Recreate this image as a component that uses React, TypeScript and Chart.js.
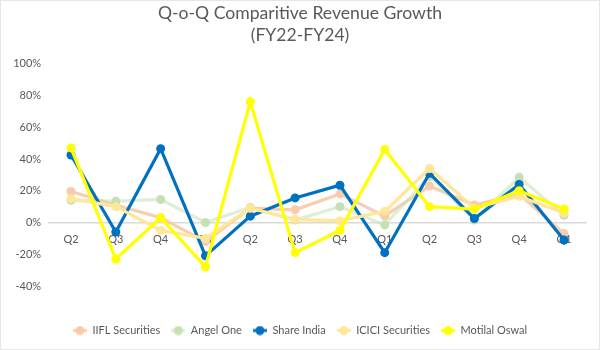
import React, { useEffect, useRef } from "react";
import { Chart, registerables } from "chart.js";

Chart.register(...registerables);

const categories = ["Q2", "Q3", "Q4", "Q1", "Q2", "Q3", "Q4", "Q1", "Q2", "Q3", "Q4", "Q1"];
const iiflSecurities = [19.5, 11, 3, -12, 9, 8, 18, 4, 23, 11, 18, -7];
const angelOne = [14, 13.5, 14.5, 0, 9.5, 1.5, 10, -1.5, 29, 1.5, 28.5, 4.5];
const shareIndia = [42.5, -6, 46.5, -21, 4, 15.5, 23.5, -19, 31, 2.5, 24, -11];
const iciciSecurities = [15, 10, -5, -10, 9, 2, 1, 7, 34, 9, 16.5, 6];
const motilalOswal = [47, -23, 3, -28, 76, -19, -5, 46, 10, 8.5, 20, 8.5];

const titleLines = ["Q-o-Q Comparitive Revenue Growth", "(FY22-FY24)"];
const FONT = "Lato, 'Open Sans', sans-serif";
const TEXT = "#595959";

function legendIcon(line: string, fill: string): HTMLCanvasElement {
  const c = document.createElement("canvas");
  c.width = 14;
  c.height = 10;
  const ctx = c.getContext("2d")!;
  ctx.strokeStyle = line;
  ctx.lineWidth = 3;
  ctx.beginPath();
  ctx.moveTo(0, 5);
  ctx.lineTo(14, 5);
  ctx.stroke();
  ctx.fillStyle = fill;
  ctx.beginPath();
  ctx.arc(7, 5, 4.5, 0, Math.PI * 2);
  ctx.fill();
  return c;
}

export default function App() {
  const ref = useRef<HTMLCanvasElement>(null);
  useEffect(() => {
    document.body.style.margin = "0";
    const series = [
      { label: "IIFL Securities", data: iiflSecurities, line: "rgba(248,203,173,0.95)", fill: "#F8CBAD", order: 4 },
      { label: "Angel One", data: angelOne, line: "rgba(197,224,180,0.55)", fill: "#C5E0B4", order: 3 },
      { label: "Share India", data: shareIndia, line: "#0070C0", fill: "#0070C0", order: 2 },
      { label: "ICICI Securities", data: iciciSecurities, line: "#FFE699", fill: "#FFE699", order: 1 },
      { label: "Motilal Oswal", data: motilalOswal, line: "#FFFF00", fill: "#FFFF00", order: 0 },
    ];
    const icons = series.map((s) => legendIcon(s.line, s.fill));
    const chart = new Chart(ref.current!, {
      type: "line",
      data: {
        labels: categories,
        datasets: series.map((s) => ({
          label: s.label,
          data: s.data,
          borderColor: s.line,
          backgroundColor: s.fill,
          pointBackgroundColor: s.fill,
          pointBorderColor: s.fill,
          pointRadius: 4.5,
          pointBorderWidth: 0,
          pointStyle: "circle",
          borderWidth: 3.2,
          tension: 0,
          order: s.order,
        })),
      },
      options: {
        animation: false,
        responsive: false,
        layout: { padding: { left: 0, right: 0, top: 0, bottom: 4 } },
        scales: {
          x: {
            type: "category",
            offset: true,
            position: { y: 0 } as any,
            grid: { display: false, drawTicks: false, offset: true },
            border: { display: true, color: "#D9D9D9", width: 1.5 },
            ticks: { color: TEXT, font: { family: FONT, size: 11 }, padding: 10, autoSkip: false, maxRotation: 0 },
          },
          x2: {
            type: "category",
            offset: true,
            position: "bottom",
            labels: categories,
            grid: { display: false, drawTicks: false },
            border: { display: false },
            ticks: { display: false },
            afterFit: (s: any) => { s.height = 28; },
          },
          y: {
            min: -40,
            max: 100,
            grid: { display: false, drawTicks: false },
            border: { display: false },
            ticks: {
              stepSize: 20,
              color: TEXT,
              font: { family: FONT, size: 11 },
              padding: 7.5,
              callback: (v: any) => `${v}%`,
            },
            afterFit: (s: any) => { s.width = 48.6; },
          },
          y2: {
            position: "right",
            grid: { display: false, drawTicks: false },
            border: { display: false },
            ticks: { display: false },
            afterFit: (s: any) => { s.width = 13.6; },
          },
        },
        plugins: {
          title: {
            display: true,
            text: titleLines,
            color: TEXT,
            font: { family: FONT, size: 17.6, weight: "normal", lineHeight: 1.3 },
            padding: { top: 1.5, bottom: 16.5 },
          },
          legend: {
            position: "bottom",
            labels: {
              usePointStyle: true,
              pointStyleWidth: 14,
              color: TEXT,
              font: { family: FONT, size: 11 },
              padding: 11,
              generateLabels: (c: any) =>
                c.data.datasets.map((d: any, i: number) => ({
                  text: d.label,
                  pointStyle: icons[i],
                  fillStyle: d.backgroundColor,
                  strokeStyle: d.borderColor,
                  lineWidth: 0,
                  hidden: !c.isDatasetVisible(i),
                  datasetIndex: i,
                  fontColor: TEXT,
                })),
            },
          },
          tooltip: { enabled: false },
        },
      },
    });
    return () => chart.destroy();
  }, []);
  return (
    <div style={{ position: "relative", width: 600, height: 350, background: "#fff", boxSizing: "border-box" }}>
      <canvas ref={ref} width={600} height={350} style={{ display: "block" }} />
      <div style={{ position: "absolute", left: 0, top: 0, width: 600, height: 350, boxSizing: "border-box", border: "1px solid #E6E6E6", pointerEvents: "none" }} />
    </div>
  );
}
